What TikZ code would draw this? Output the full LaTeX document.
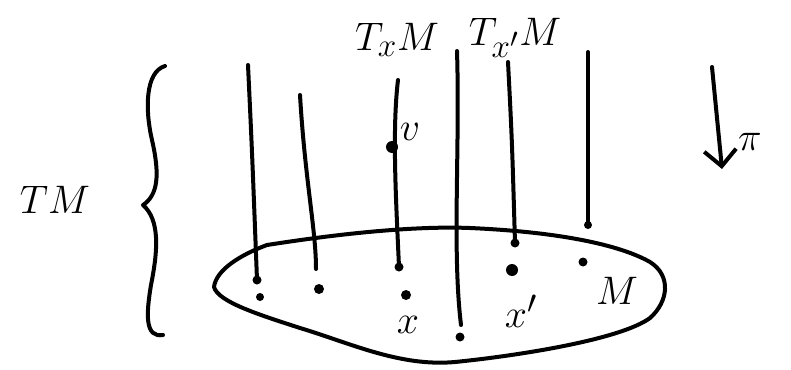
\documentclass[tikz,border=0pt]{standalone}
\usepackage{graphicx}
\usetikzlibrary{arrows.meta}
\newcommand{\bigtxt}[1]{\scalebox{1.6}{\Huge$#1$}}
\begin{document}
\begin{tikzpicture}[x=1pt,y=-1pt,
  ink/.style={line width=4pt,line cap=round,line join=round},
  pt/.style={circle,fill=black,inner sep=0pt,minimum size=#1},
  pt/.default=8pt,
  lab/.style={inner sep=0pt}]
\useasboundingbox (0,0) rectangle (791,369);
% fibres (tangent spaces)
\coordinate (f1t) at (248,65);  \coordinate (f1b) at (257,280);
\coordinate (f2t) at (300,95);  \coordinate (f2b) at (316,269);
\coordinate (f3t) at (398,80);  \coordinate (f3b) at (399,267);
\coordinate (f4t) at (457,51);  \coordinate (f4b) at (461,325);
\coordinate (f5t) at (508,62);  \coordinate (f5b) at (515,243);
\coordinate (f6t) at (588,52);  \coordinate (f6b) at (588,225);
\draw[ink] (f1t) .. controls (252,150) .. (f1b);
\draw[ink] (f2t) .. controls (305,180) and (316,230) .. (f2b);
\draw[ink] (f3t) .. controls (392,130) and (396,200) .. (f3b);
\draw[ink] (f4t) .. controls (460,150) and (452,250) .. (f4b);
\draw[ink] (f5t) .. controls (512,140) .. (f5b);
\draw[ink] (f6t) -- (f6b);
\node[pt=9pt] (e1) at (f1b) {};
\node[pt=9pt] (e3) at (f3b) {};
\node[pt=9pt] (e5) at (f5b) {};
\node[pt=8pt] (e6) at (f6b) {};
% manifold M
\coordinate (m1) at (214,287);
\coordinate (m2) at (267,245);
\coordinate (m3) at (470,228);
\coordinate (m4) at (650,262);
\coordinate (m5) at (650,318);
\coordinate (m6) at (455,362);
\coordinate (m7) at (300,328);
\draw[ink] (m1) .. controls (216,270) and (240,255) .. (m2)
  .. controls (350,232) and (420,226) .. (m3)
  .. controls (560,232) and (620,245) .. (m4)
  .. controls (672,276) and (668,302) .. (m5)
  .. controls (620,340) and (515,356) .. (m6)
  .. controls (400,367) and (350,343) .. (m7)
  .. controls (260,315) and (218,302) .. (m1) -- cycle;
% points of M
\node[pt=8pt] (p1) at (260,297) {};
\node[pt=10pt] (p2) at (319,289) {};
\node[pt=10pt] (px) at (406,295) {};
\node[pt=9pt] (p4) at (460,337) {};
\node[pt=12pt] (pxp) at (512,270) {};
\node[pt=9pt] (p6) at (583,262) {};
\node[pt=12pt] (v) at (392,147) {};
% labels
\node[lab] (lTx) at (397,40) {\bigtxt{T_xM}};
\node[lab] (lTxp) at (515,38) {\bigtxt{T_{x'}M}};
\node[lab] (lv) at (410,132) {\bigtxt{v}};
\node[lab] (lx) at (408,325) {\bigtxt{x}};
\node[lab] (lxp) at (521,311) {\bigtxt{x'}};
\node[lab] (lM) at (617,291) {\bigtxt{M}};
\node[lab] (lTM) at (55,200) {\bigtxt{TM}};
\node[lab] (lpi) at (750,142) {\bigtxt{\pi}};
% projection arrow
\coordinate (at) at (712,67);
\coordinate (ab) at (722,169);
\draw[ink,-{Straight Barb[length=16pt,width=32pt,line width=4pt]}] (at) -- (ab);
% brace
\coordinate (bt) at (165,66);
\coordinate (bm) at (143,205);
\coordinate (bb) at (163,335);
\draw[ink] (bt) .. controls (145,72) and (145,110) .. (152,140)
  .. controls (160,175) and (158,195) .. (bm)
  .. controls (160,220) and (158,250) .. (151,285)
  .. controls (146,315) and (145,338) .. (bb);
\end{tikzpicture}
\end{document}
